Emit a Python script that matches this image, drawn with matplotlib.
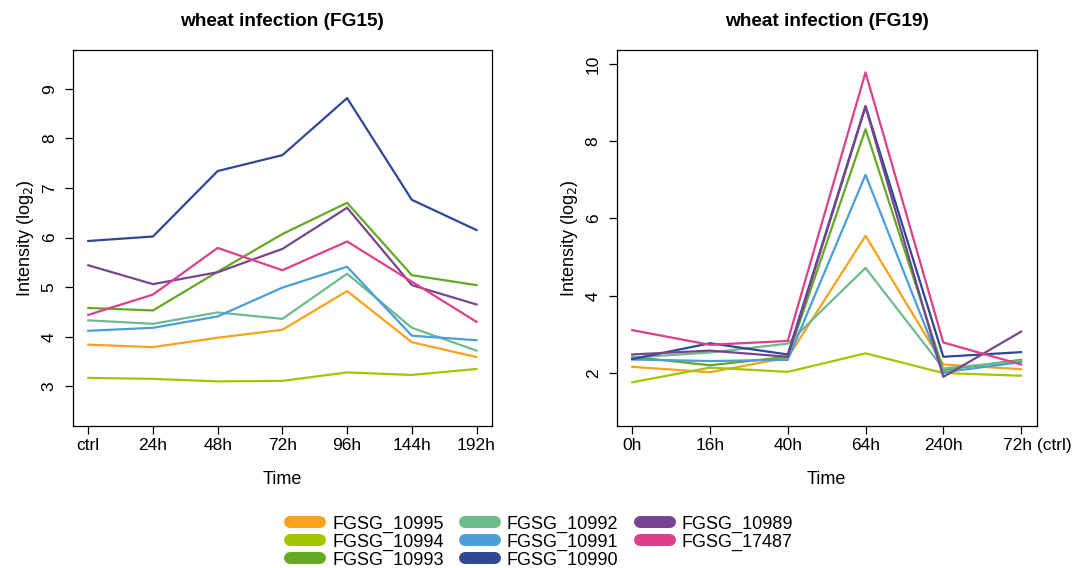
import numpy as np
import matplotlib.pyplot as plt
import matplotlib.transforms as mtransforms
from matplotlib.lines import Line2D

plt.rcParams['font.family'] = ['Liberation Sans', 'DejaVu Sans']

genes = ["FGSG_10995", "FGSG_10994", "FGSG_10993", "FGSG_10992",
         "FGSG_10991", "FGSG_10990", "FGSG_10989", "FGSG_17487"]
colors = ["#f7a21b", "#a6c300", "#63a922", "#6dbb8d",
          "#4a9fd6", "#2f4895", "#774590", "#de3f89"]

# FG15 wheat infection time course
fg15_times = ["ctrl", "24h", "48h", "72h", "96h", "144h", "192h"]
fg15 = {
    "FGSG_10995": [3.84, 3.79, 3.98, 4.14, 4.92, 3.89, 3.59],
    "FGSG_10994": [3.17, 3.15, 3.10, 3.11, 3.28, 3.23, 3.35],
    "FGSG_10993": [4.58, 4.53, 5.31, 6.07, 6.70, 5.24, 5.04],
    "FGSG_10992": [4.33, 4.26, 4.49, 4.36, 5.27, 4.18, 3.72],
    "FGSG_10991": [4.12, 4.18, 4.41, 4.99, 5.41, 4.02, 3.93],
    "FGSG_10990": [5.93, 6.02, 7.34, 7.66, 8.81, 6.76, 6.15],
    "FGSG_10989": [5.44, 5.06, 5.30, 5.77, 6.60, 5.04, 4.65],
    "FGSG_17487": [4.44, 4.85, 5.79, 5.34, 5.92, 5.11, 4.30],
}

# FG19 wheat infection time course
fg19_times = ["0h", "16h", "40h", "64h", "240h", "72h (ctrl)"]
fg19 = {
    "FGSG_10995": [2.16, 2.02, 2.40, 5.55, 2.22, 2.10],
    "FGSG_10994": [1.76, 2.14, 2.03, 2.51, 2.00, 1.93],
    "FGSG_10993": [2.42, 2.20, 2.42, 8.31, 2.08, 2.34],
    "FGSG_10992": [2.40, 2.53, 2.76, 4.72, 2.12, 2.31],
    "FGSG_10991": [2.35, 2.31, 2.34, 7.13, 2.02, 2.28],
    "FGSG_10990": [2.36, 2.77, 2.48, 8.91, 2.42, 2.54],
    "FGSG_10989": [2.48, 2.58, 2.42, 8.89, 1.90, 3.07],
    "FGSG_17487": [3.11, 2.73, 2.83, 9.78, 2.79, 2.22],
}

fig = plt.figure(figsize=(10.76, 5.68), dpi=100)
ax1 = fig.add_axes([0.0676, 0.2505, 0.3897, 0.6615])
ax2 = fig.add_axes([0.5731, 0.2505, 0.3903, 0.6615])


def panel(ax, times, data, title, ylim, yticks):
    x = np.arange(1, len(times) + 1)
    for g, c in zip(genes, colors):
        ax.plot(x, data[g], color=c, lw=1.6)
    n = len(times)
    pad = 0.04 * (n - 1)
    ax.set_xlim(1 - pad, n + pad)
    ax.set_ylim(*ylim)
    ax.set_xticks(x)
    ax.set_xticklabels(times)
    ax.set_yticks(yticks)
    ax.tick_params(direction='out', length=5.5, width=0.9, labelsize=12.5, pad=3)
    ax.tick_params(axis='y', labelrotation=90, pad=6)
    for lab in ax.get_yticklabels():
        lab.set_va('center')
    for s in ax.spines.values():
        s.set_linewidth(0.9)
    ax.set_title(title, fontsize=13.7, fontweight='bold', pad=17)
    ax.set_xlabel("Time", fontsize=13, labelpad=13)
    ax.set_ylabel("Intensity (log$_2$)", fontsize=13, labelpad=4)


panel(ax1, fg15_times, fg15, "wheat infection (FG15)", (2.206, 9.78), range(3, 10))
panel(ax2, fg19_times, fg19, "wheat infection (FG19)", (0.636, 10.36), range(2, 11, 2))

# last label on the right panel sits a little to the right of its tick
last = ax2.get_xticklabels()[-1]
last.set_transform(last.get_transform() +
                   mtransforms.ScaledTranslation(0.16, 0, fig.dpi_scale_trans))

handles = [Line2D([], [], color=c, lw=8.6, solid_capstyle='round') for c in colors]
fig.legend(handles, genes, loc='lower center', bbox_to_anchor=(0.5035, -0.03),
           ncol=3, frameon=False, fontsize=13, handlelength=1.65, handletextpad=0.65,
           columnspacing=1.2, labelspacing=0.05)

fig.savefig("out.png", dpi=100)
